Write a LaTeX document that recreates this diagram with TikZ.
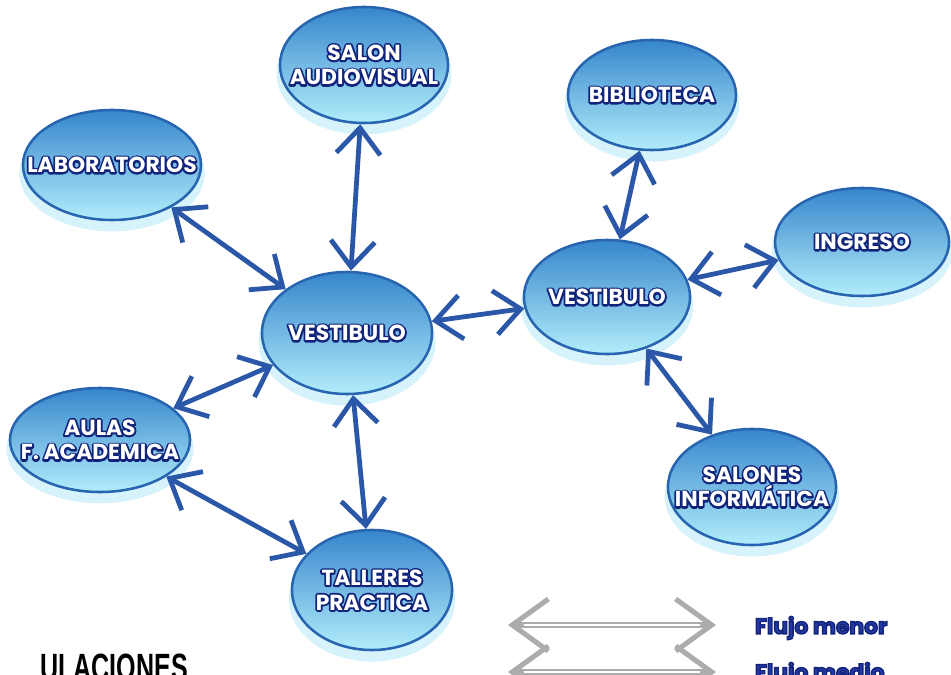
\documentclass[tikz,border=0pt]{standalone}
\usepackage{fontspec}
\setmainfont{Poppins}
\newfontfamily\titulofuente{Liberation Sans}
\usetikzlibrary{arrows.meta,shapes.geometric,shadows}
\definecolor{bordeazul}{HTML}{2865B0}
\definecolor{topeazul}{HTML}{3686CC}
\definecolor{medioazul}{HTML}{76C8EE}
\definecolor{baseazul}{HTML}{B2EDFB}
\definecolor{brillo}{HTML}{C4ECF8}
\definecolor{flechazul}{HTML}{2A57A8}
\definecolor{marino}{HTML}{12237A}
\definecolor{textoley}{HTML}{2338A3}
% texto con contorno: copia trazada debajo, copia blanca encima
\newcommand{\rotulo}[1]{\rlap{\textcolor{marino}{\special{pdf:literal direct 0.07 0.14 0.48 RG 2.6 w 1 J 1 j 2 Tr}#1\special{pdf:literal direct 0 Tr}}}\textcolor{white}{#1}}
\newcommand{\rotuloley}[1]{\textcolor{textoley}{\special{pdf:literal direct 0.07 0.14 0.48 RG 1.0 w 2 Tr}#1\special{pdf:literal direct 0 Tr}}}

\begin{document}
\begin{tikzpicture}[x=0.025cm,y=-0.025cm,
			burbuja/.style={ellipse,draw=bordeazul,line width=1.8pt,top color=topeazul,middle color=medioazul,bottom color=baseazul,minimum width=4.25cm,minimum height=2.85cm,inner xsep=-30pt,inner ysep=-10pt,align=center,font=\fontsize{15.5}{17.5}\selectfont\bfseries,drop shadow={shadow xshift=0cm,shadow yshift=-0.22cm,shadow scale=1.04,fill=brillo,opacity=0.7}},
			flecha/.style={{Straight Barb[length=0.65cm,width=1.1cm]}-{Straight Barb[length=0.65cm,width=1.1cm]},line width=3.4pt,flechazul},
			leyflecha/.style={{Straight Barb[length=0.9cm,width=1.3cm]}-{Straight Barb[length=0.9cm,width=1.3cm]},line width=3.6pt,gray!65},
			leytexto/.style={anchor=west,font=\fontsize{15.5}{16}\selectfont\bfseries}
			]
			\useasboundingbox (0,0) rectangle (951,675);
			% espacios
			\node[burbuja,minimum width=4.2cm,minimum height=2.9cm] (salon) at (364,65) {\rotulo{SALON}\\\rotulo{AUDIOVISUAL}};
			\node[burbuja,minimum width=4.45cm,minimum height=2.75cm] (lab) at (112,165) {\rotulo{LABORATORIOS}};
			\node[burbuja,minimum width=4.2cm,minimum height=2.75cm] (bib) at (652,95) {\rotulo{BIBLIOTECA}};
			\node[burbuja,minimum width=4.35cm,minimum height=2.7cm] (ing) at (862,242) {\rotulo{INGRESO}};
			\node[burbuja,minimum height=3.05cm] (vestI) at (347,333) {\rotulo{VESTIBULO}};
			\node[burbuja,minimum width=4.15cm] (vestD) at (607,297) {\rotulo{VESTIBULO}};
			\node[burbuja,minimum width=4.5cm,minimum height=2.6cm] (aulas) at (100,440) {\rotulo{AULAS}\\\rotulo{F. ACADEMICA}};
			\node[burbuja,minimum width=4.2cm,minimum height=2.9cm] (salones) at (752,487) {\rotulo{SALONES}\\\rotulo{INFORM\'ATICA}};
			\node[burbuja,minimum width=4.0cm,minimum height=3.0cm] (talleres) at (372,590) {\rotulo{TALLERES}\\\rotulo{PRACTICA}};
			% circulaciones
			\draw[flecha] (salon)--(vestI);
			\draw[flecha] (lab)--(vestI);
			\draw[flecha] (vestI)--(aulas);
			\draw[flecha] (vestI)--(talleres);
			\draw[flecha] (aulas)--(talleres);
			\draw[flecha] (vestI)--(vestD);
			\draw[flecha] (bib)--(vestD);
			\draw[flecha] (vestD)--(ing);
			\draw[flecha] (vestD)--(salones);
			% leyenda
			\coordinate (m1) at (508,625); \coordinate (m2) at (716,625);
			\coordinate (f1) at (508,672); \coordinate (f2) at (716,672);
			\draw[leyflecha] (m1)--(m2);
			\draw[white,line width=1pt,shorten <=0.4cm,shorten >=0.4cm] (m1)--(m2);
			\draw[leyflecha] (f1)--(f2);
			\draw[white,line width=1pt,shorten <=0.4cm,shorten >=0.4cm] (f1)--(f2);
			\node[leytexto] (menor) at (750,628) {\rotuloley{Flujo menor}};
			\node[leytexto] (medio) at (750,674) {\rotuloley{Flujo medio}};
			\node[anchor=base west,inner sep=0pt,font=\titulofuente\bfseries\fontsize{27}{27}\selectfont] (titulo) at (40,680) {\scalebox{0.66}[1]{ULACIONES}};
		\end{tikzpicture}
\end{document}
